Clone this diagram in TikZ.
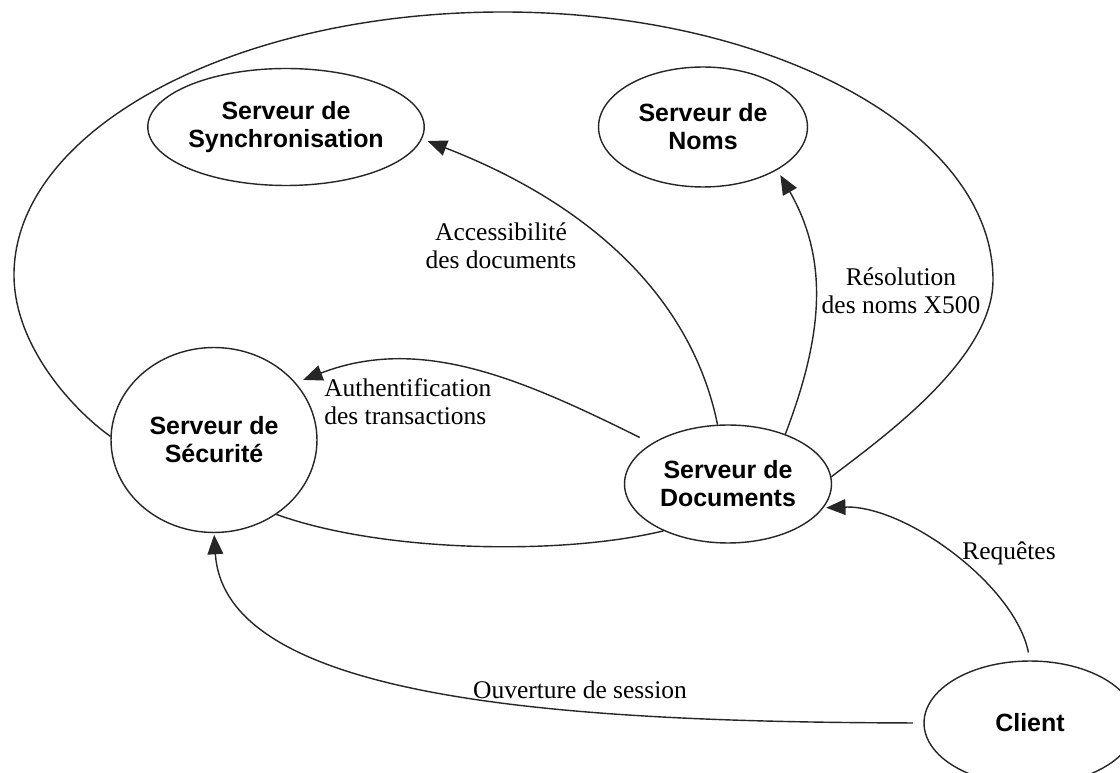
\documentclass[tikz,border=0pt]{standalone}
\usepackage{fontspec}
\setmainfont{Liberation Serif}
\setsansfont{Liberation Sans}
\usetikzlibrary{arrows.meta,shapes.geometric}

\tikzset{
  server/.style={ellipse, draw=black!85, line width=0.8pt, inner sep=0pt,
    font=\sffamily\bfseries\fontsize{14.2}{16}\selectfont, align=center, text=black},
  link/.style={draw=black!85, line width=0.8pt},
  flow/.style={link, -{Triangle[length=11pt,width=9pt]}},
  lbl/.style={font=\fontsize{14.5}{16}\selectfont, align=center, inner sep=0pt, text=black},
}

\begin{document}
\begin{tikzpicture}[x=0.02cm,y=-0.02cm]
\useasboundingbox (0,0) rectangle (1120,773);
\fill[white] (0,0) rectangle (1120,773);

% servers
\node[server, minimum width=4.44cm, minimum height=2.34cm] (sync) at (286,127) {Serveur de\\Synchronisation};
\node[server, minimum width=4.18cm, minimum height=2.40cm] (noms) at (703,127) {Serveur de\\Noms};
\node[server, minimum width=4.12cm, minimum height=3.70cm] (sec) at (214,440) {Serveur de\\Sécurité};
\node[server, minimum width=4.14cm, minimum height=2.36cm] (doc) at (728,484) {Serveur de\\Documents};
\node[server, minimum width=4.24cm, minimum height=2.48cm] (client) at (1030,723) {Client};

% closed loop joining the security and document servers
\draw[link] (sec.178) .. controls (72,409) and (14,345) .. (14,275)
  .. controls (14,130) and (233,12) .. (503,12)
  .. controls (773,12) and (993,132) .. (993,280)
  .. controls (993,360) and (879,440) .. (doc.4);
\draw[link] (sec.-50) .. controls (380,552) and (560,556) .. (doc.-144);

% requests
\draw[flow, shorten >=3.4pt] (doc.100) .. controls (690,290) and (580,200) .. (sync.-5);
\draw[flow, shorten >=3.4pt] (doc.41) .. controls (822,338) and (830,262) .. (noms.-30);
\draw[flow, shorten <=7.5pt, shorten >=4.5pt] (doc.152) .. controls (520,378) and (420,335) .. (sec.35);
\draw[flow, shorten <=4.5pt, shorten >=1.5pt] (client.90) .. controls (1015,585) and (905,505) .. (doc.-14);
\draw[flow, shorten <=6pt, shorten >=1pt] (client.180) .. controls (560,722) and (225,700) .. (sec.-90);

% labels
\node[lbl] (lacc) at (501,246) {Accessibilité\\des documents};
\node[lbl] (lres) at (901,291) {Résolution\\des noms X500};
\node[lbl, align=left, anchor=west] (laut) at (324,402) {Authentification\\des transactions};
\node[lbl] (lreq) at (1009,553) {Requêtes};
\node[lbl] (louv) at (580,690) {Ouverture de session};
\end{tikzpicture}
\end{document}
